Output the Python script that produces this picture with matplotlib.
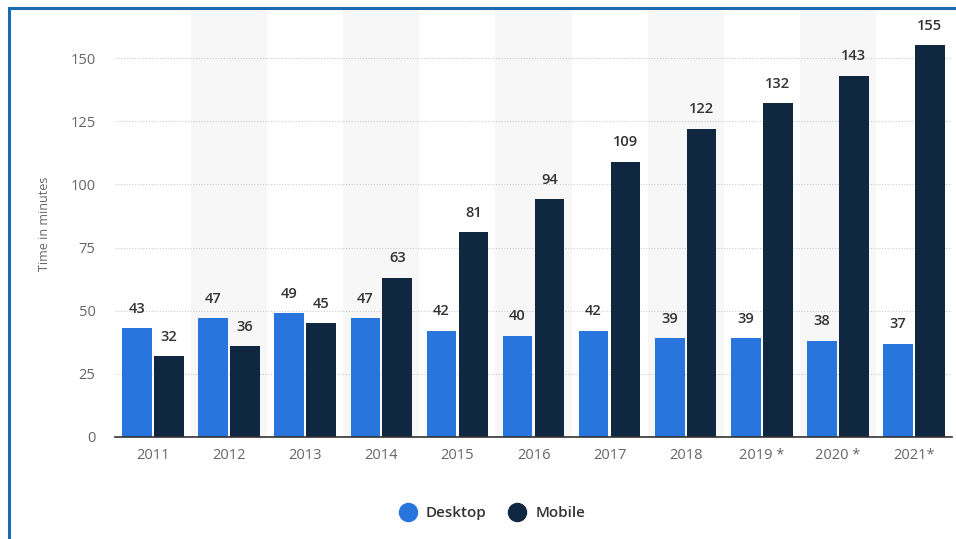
import numpy as np
import matplotlib.pyplot as plt
from matplotlib.lines import Line2D

years = ["2011", "2012", "2013", "2014", "2015", "2016", "2017", "2018", "2019 *", "2020 *", "2021*"]
desktop = [43, 47, 49, 47, 42, 40, 42, 39, 39, 38, 37]
mobile = [32, 36, 45, 63, 81, 94, 109, 122, 132, 143, 155]

c_desk = "#2876dd"
c_mob = "#0f2741"

plt.rcParams['font.family'] = ['Open Sans', 'DejaVu Sans']

fig = plt.figure(figsize=(9.56, 5.39), dpi=100)
ax = fig.add_axes([115/956, 1 - 437/539, (952 - 115)/956, (437 - 10)/539])

x = np.arange(len(years))
w = 0.39
off = 0.21

# alternating background bands
for i in x:
    if i % 2 == 1:
        ax.axvspan(i - 0.5, i + 0.5, color="#f7f7f7", zorder=0, lw=0)

b1 = ax.bar(x - off, desktop, w, color=c_desk, zorder=3)
b2 = ax.bar(x + off, mobile, w, color=c_mob, zorder=3)

for bars, vals in ((b1, desktop), (b2, mobile)):
    for r, v in zip(bars, vals):
        ax.annotate(str(v), (r.get_x() + r.get_width()/2, v), xytext=(0, 9),
                    textcoords="offset points", ha="center", va="bottom",
                    fontsize=10.5, fontweight="semibold", color="#333333")

ymax = (437 - 10) / ((437 - 58) / 150)
ax.set_ylim(0, ymax)
ax.set_xlim(-0.5, len(years) - 0.5)
ax.set_yticks([0, 25, 50, 75, 100, 125, 150])
ax.set_xticks(x)
ax.set_xticklabels(years)
ax.tick_params(axis="both", length=0, labelsize=10.5, colors="#666666")
ax.tick_params(axis="y", pad=14)
ax.tick_params(axis="x", pad=8)
ax.yaxis.grid(True, linestyle=(0, (1, 1.5)), color="#cccccc", lw=0.8, zorder=1)
for s in ("top", "right", "left"):
    ax.spines[s].set_visible(False)
ax.spines["bottom"].set_color("#333333")
ax.spines["bottom"].set_linewidth(1.2)
ax.spines["bottom"].set_zorder(4)
ax.set_ylabel("Time in minutes", fontsize=9, color="#666666", labelpad=14)

handles = [Line2D([], [], marker="o", ls="", ms=13, color=c_desk),
           Line2D([], [], marker="o", ls="", ms=13, color=c_mob)]
leg = fig.legend(handles, ["Desktop", "Mobile"], loc="center", bbox_to_anchor=(489/956, 1 - 513/539),
                 ncol=2, frameon=False, handletextpad=0.2, columnspacing=1.0,
                 prop={"size": 11, "weight": "semibold"})
for t in leg.get_texts():
    t.set_color("#333333")

# blue frame
fig.add_artist(Line2D([9/956, 9/956], [0, 1 - 8/539], color="#1a6bb0", lw=2.2, transform=fig.transFigure))
fig.add_artist(Line2D([9/956, 1], [1 - 8/539, 1 - 8/539], color="#1a6bb0", lw=2.2, transform=fig.transFigure))

fig.savefig("out.png", dpi=100)
